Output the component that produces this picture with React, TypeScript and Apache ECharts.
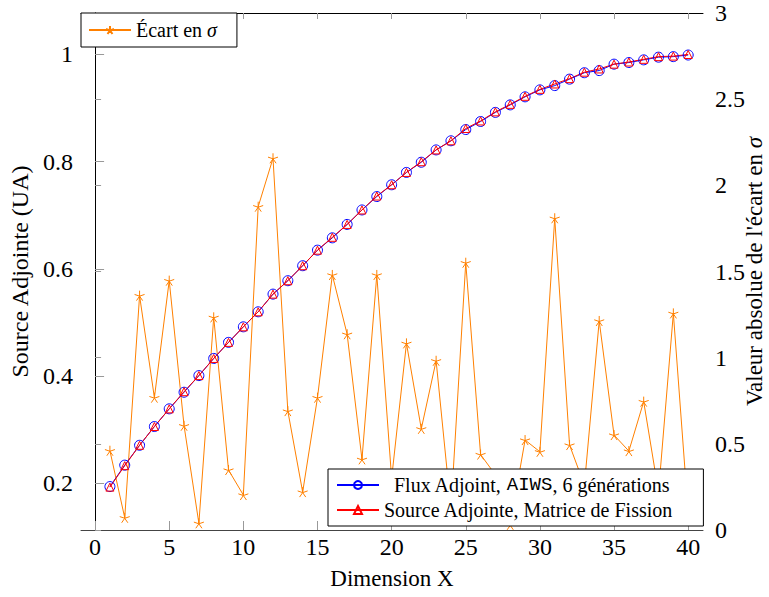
import React, { useEffect, useRef } from 'react';
import * as echarts from 'echarts';

// ---- data ----
const dims = [1, 2, 3, 4, 5, 6, 7, 8, 9, 10, 11, 12, 13, 14, 15, 16, 17, 18, 19, 20,
  21, 22, 23, 24, 25, 26, 27, 28, 29, 30, 31, 32, 33, 34, 35, 36, 37, 38, 39, 40];

const fluxAdjoint = [0.194, 0.234, 0.271, 0.306, 0.339, 0.370, 0.401, 0.433, 0.463, 0.492,
  0.520, 0.553, 0.578, 0.606, 0.635, 0.658, 0.683, 0.710, 0.735, 0.757,
  0.780, 0.799, 0.822, 0.839, 0.860, 0.875, 0.892, 0.906, 0.921, 0.934,
  0.942, 0.954, 0.966, 0.970, 0.982, 0.985, 0.990, 0.995, 0.996, 0.999];

const sourceAdjointe = [0.193, 0.233, 0.271, 0.306, 0.339, 0.371, 0.401, 0.433, 0.463, 0.492,
  0.520, 0.553, 0.578, 0.606, 0.635, 0.659, 0.683, 0.710, 0.736, 0.757,
  0.780, 0.800, 0.822, 0.839, 0.862, 0.876, 0.893, 0.907, 0.922, 0.935,
  0.945, 0.955, 0.967, 0.973, 0.982, 0.986, 0.991, 0.996, 0.997, 1.0];

const ecartSigma = [0.46, 0.071, 1.36, 0.768, 1.447, 0.605, 0.039, 1.234, 0.348, 0.203,
  1.876, 2.157, 0.69, 0.22, 0.768, 1.48, 1.136, 0.41, 1.48, 0.30,
  1.083, 0.587, 0.982, 0.12, 1.551, 0.438, 0.32, 0.03, 0.522, 0.454,
  1.809, 0.493, 0.26, 1.213, 0.551, 0.458, 0.745, 0.22, 1.257, 0.10];

const xTicks = [0, 5, 10, 15, 20, 25, 30, 35, 40];
const leftTicks = [0.2, 0.4, 0.6, 0.8, 1];

const NAME_FLUX = 'Flux Adjoint, AIWS, 6 générations';
const NAME_SOURCE = 'Source Adjointe, Matrice de Fission';
const NAME_ECART = 'Écart en σ';

const FONT = "'Liberation Serif', 'DejaVu Serif', serif";
const MONO = "'Liberation Mono', 'DejaVu Sans Mono', monospace";
const BLUE = '#0000ff';
const RED = '#ff0000';
const ORANGE = '#ff8000';
const STAR = 'path://M0,0L0,-10M0,0L9.51,-3.09M0,0L5.88,8.09M0,0L-5.88,8.09M0,0L-9.51,-3.09';

export default function App() {
  const ref = useRef<HTMLDivElement>(null);

  useEffect(() => {
    if (!ref.current) return;
    const chart = echarts.init(ref.current, null, { renderer: 'svg' });
    const tickFont = { fontFamily: FONT, fontSize: 24, color: '#000' };
    const nameFont = { fontFamily: FONT, fontSize: 24, color: '#000' };
    const legendRich = {
      a: { fontFamily: FONT, fontSize: 20, color: '#000' },
      m: { fontFamily: MONO, fontSize: 19, color: '#000' },
      i: { fontFamily: FONT, fontSize: 20, fontStyle: 'italic', color: '#000' },
      sp: { fontFamily: FONT, fontSize: 20, width: 10 },
    };
    chart.setOption({
      animation: false,
      backgroundColor: '#fff',
      textStyle: { fontFamily: FONT },
      grid: { left: 81, right: 66, top: 13, bottom: 67, containLabel: false, outerBoundsMode: 'none' },
      xAxis: [
        {
          type: 'value', position: 'bottom', min: -0.95, max: 41,
          axisLine: { show: true, lineStyle: { color: '#444', width: 1 } },
          axisTick: { show: true, inside: true, length: 9, customValues: xTicks, lineStyle: { color: '#999', width: 1 } },
          axisLabel: { show: true, customValues: xTicks, margin: 5, ...tickFont },
          splitLine: { show: false },
          name: 'Dimension X', nameLocation: 'middle', nameGap: 37, nameTextStyle: { ...nameFont, fontSize: 23 },
        },
        {
          type: 'value', position: 'top', min: -0.95, max: 41,
          axisLine: { show: true, lineStyle: { color: '#000', width: 1 } },
          axisTick: { show: true, inside: true, length: 6, customValues: xTicks, lineStyle: { color: '#999', width: 1 } },
          axisLabel: { show: false },
          splitLine: { show: false },
        },
      ],
      yAxis: [
        {
          type: 'value', position: 'left', min: 0.113, max: 1.0774,
          axisLine: { show: true, lineStyle: { color: '#888', width: 1 } },
          axisTick: { show: true, inside: true, length: 9, customValues: leftTicks, lineStyle: { color: '#999', width: 1 } },
          axisLabel: { show: true, customValues: leftTicks, margin: 8, ...tickFont },
          splitLine: { show: false },
          name: 'Source Adjointe (UA)', nameLocation: 'middle', nameGap: 37, nameRotate: 90, nameTextStyle: nameFont,
        },
        {
          type: 'value', position: 'right', min: 0, max: 3, interval: 0.5,
          axisLine: { show: true, symbol: ['none', 'arrow'], symbolSize: [6, 9], lineStyle: { color: '#000', width: 1 } },
          axisTick: { show: true, inside: false, length: 6, lineStyle: { color: '#999', width: 1 } },
          axisLabel: { show: true, margin: 12, ...tickFont },
          splitLine: { show: false },
          name: "Valeur absolue de l'écart en {i|σ}", nameLocation: 'middle', nameGap: 40, nameRotate: 90,
          nameMoveOverlap: false,
          nameTextStyle: { ...nameFont, fontSize: 23, rich: { i: { fontFamily: FONT, fontSize: 23, fontStyle: 'italic', color: '#000' } } },
        },
      ],
      legend: [
        {
          data: [NAME_ECART], left: 81, top: 13, orient: 'vertical', selectedMode: false,
          backgroundColor: '#fff', borderColor: '#000', borderWidth: 1, borderRadius: 0,
          padding: [7, 20, 7, 7], itemWidth: 42, itemHeight: 10,
          textStyle: { fontFamily: FONT, fontSize: 20, color: '#000', rich: legendRich },
          formatter: () => '{a|Écart en }{i|σ}',
        },
        {
          data: [NAME_FLUX, NAME_SOURCE], left: 328, top: 469, orient: 'vertical', selectedMode: false,
          backgroundColor: '#fff', borderColor: '#000', borderWidth: 1, borderRadius: 0,
          padding: [6, 30, 6, 8], itemGap: 5, itemWidth: 42, itemHeight: 10,
          textStyle: { fontFamily: FONT, fontSize: 20, color: '#000', rich: legendRich },
          formatter: (name: string) => name === NAME_FLUX
            ? '{sp| }{a|Flux Adjoint, }{m|AIWS}{a|, 6 générations}'
            : '{a|Source Adjointe, Matrice de Fission}',
        },
      ],
      series: [
        {
          name: NAME_ECART, type: 'line', xAxisIndex: 0, yAxisIndex: 1,
          data: dims.map((x, i) => [x, ecartSigma[i]]),
          symbol: STAR, symbolSize: 10, showAllSymbol: true,
          itemStyle: { color: ORANGE, borderColor: ORANGE, borderWidth: 1 },
          lineStyle: { color: ORANGE, width: 1 }, z: 2,
        },
        {
          name: NAME_FLUX, type: 'line', xAxisIndex: 0, yAxisIndex: 0,
          data: dims.map((x, i) => [x, fluxAdjoint[i]]),
          symbol: 'circle', symbolSize: 10, showAllSymbol: true,
          itemStyle: { color: 'rgba(255,255,255,0)', borderColor: BLUE, borderWidth: 1 },
          lineStyle: { color: BLUE, width: 1 }, z: 3,
        },
        {
          name: NAME_SOURCE, type: 'line', xAxisIndex: 0, yAxisIndex: 0,
          data: dims.map((x, i) => [x, sourceAdjointe[i]]),
          symbol: 'triangle', symbolSize: 8, showAllSymbol: true,
          itemStyle: { color: 'rgba(255,255,255,0)', borderColor: RED, borderWidth: 1 },
          lineStyle: { color: RED, width: 1 }, z: 3,
        },
      ],
    });
    return () => chart.dispose();
  }, []);

  return <div ref={ref} style={{ position: 'absolute', left: 0, top: 0, width: '769px', height: '597px' }} />;
}
